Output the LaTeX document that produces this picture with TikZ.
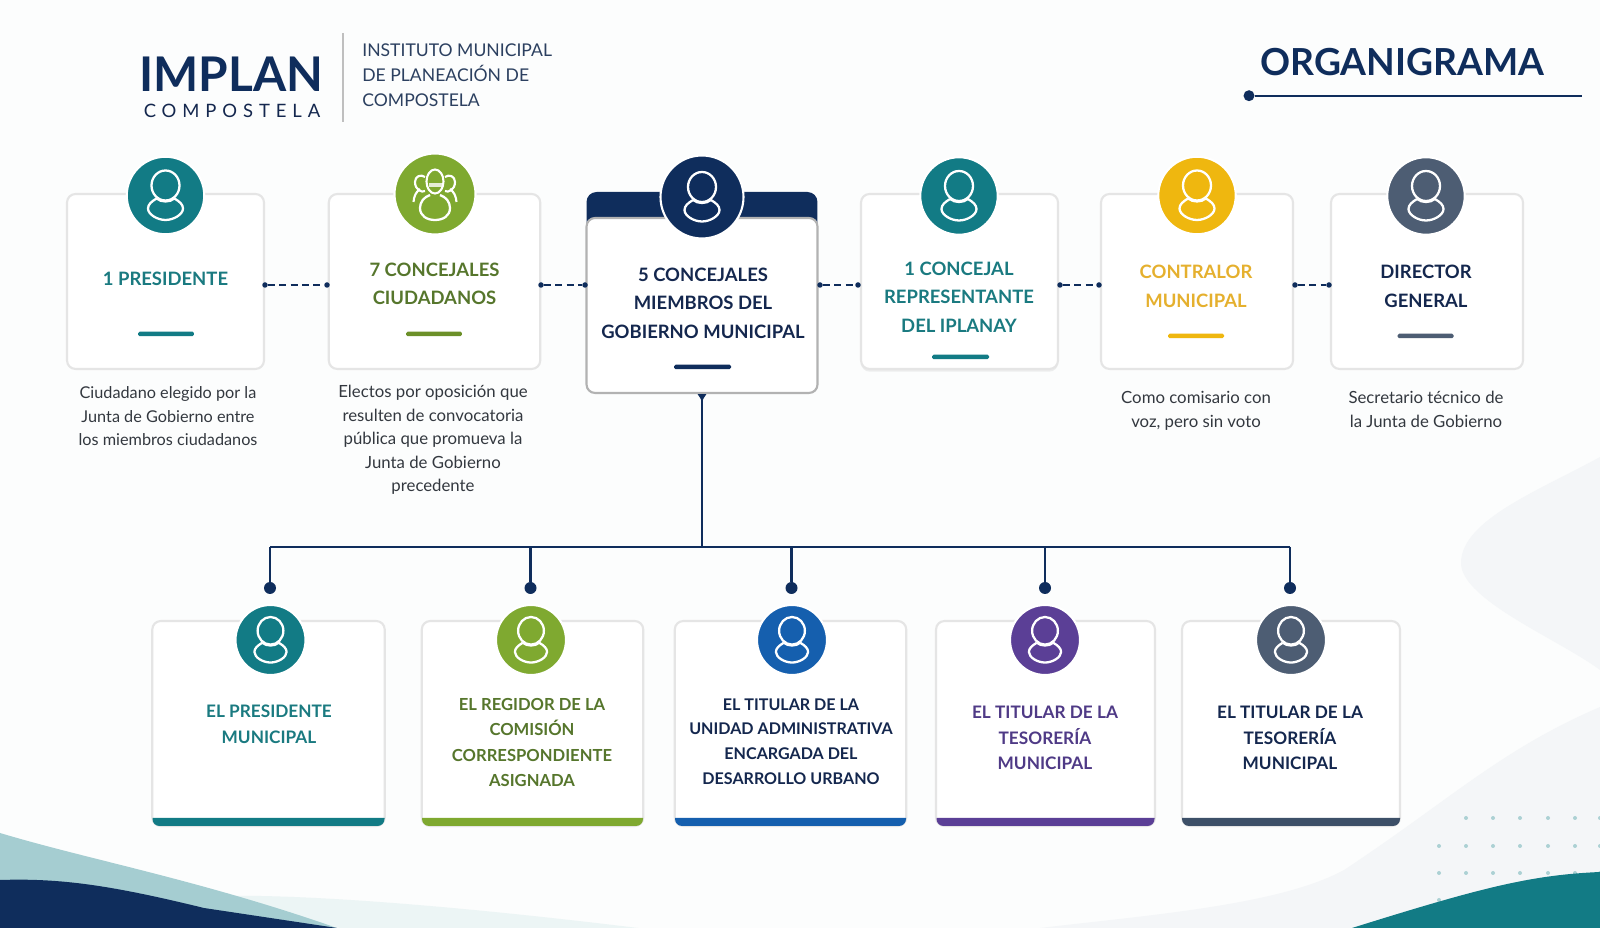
\documentclass[tikz,border=0pt]{standalone}
\usepackage{fontspec}
\setmainfont{Lato}
\usetikzlibrary{arrows.meta,shadows}

\definecolor{nv1}{HTML}{0F2D5C}
\definecolor{tl1}{HTML}{127B85}
\definecolor{tl2}{HTML}{1A7A80}
\definecolor{gr1}{HTML}{7FA930}
\definecolor{gr2}{HTML}{56762C}
\definecolor{ye1}{HTML}{EFB70F}
\definecolor{ye2}{HTML}{E5B02E}
\definecolor{sl1}{HTML}{4D5D73}
\definecolor{sl2}{HTML}{3D5068}
\definecolor{bl1}{HTML}{155FAE}
\definecolor{pu1}{HTML}{5B3F96}
\definecolor{pu2}{HTML}{4F3A86}
\definecolor{tx1}{HTML}{14274E}
\definecolor{tx2}{HTML}{33383F}
\definecolor{tx3}{HTML}{2C4060}
\definecolor{bg1}{HTML}{FCFDFD}
\definecolor{bg2}{HTML}{F4F6F8}

\tikzstyle{cr1}=[rectangle,fill=white,draw=black!10,line width=1.2pt,rounded corners=0.17cm,minimum height=3.5cm,inner sep=0pt]
\tikzstyle{cr2}=[rectangle,fill=white,draw=black!10,line width=1.2pt,rounded corners=0.17cm,minimum height=4.1cm,inner sep=0pt]
\tikzstyle{ci1}=[circle,draw=white,line width=1.2pt,inner sep=0pt,minimum size=1.55cm]
\tikzstyle{ci2}=[circle,draw=white,line width=1.2pt,inner sep=0pt,minimum size=1.4cm]
\tikzstyle{ti1}=[align=center,font=\bfseries\fontsize{10.5}{16.3}\selectfont,inner sep=0pt]
\tikzstyle{ti2}=[align=center,font=\bfseries\fontsize{9.8}{14.7}\selectfont,inner sep=0pt]
\tikzstyle{de1}=[align=center,text=tx2,font=\fontsize{9.55}{13.4}\selectfont,inner sep=0pt]
\tikzstyle{rl1}=[rectangle,rounded corners=0.03cm,inner sep=0pt,minimum height=0.09cm]
\tikzstyle{dt1}=[circle,fill=nv1,inner sep=0pt,minimum size=0.11cm]
\tikzstyle{dt2}=[circle,fill=nv1,inner sep=0pt,minimum size=0.24cm]

\tikzset{
  person/.pic={
    \draw [white,line width=1.3pt] (0,-10) ellipse (14 and 15);
    \draw [white,line width=1.3pt,line join=round] (-9,3) .. controls (-14,6) and (-17.5,9) .. (-17.5,13) .. controls (-17.5,19) and (-8,24.5) .. (0,24.5) .. controls (8,24.5) and (17.5,19) .. (17.5,13) .. controls (17.5,9) and (14,6) .. (9,3) .. controls (4,7) and (-4,7) .. (-9,3);
  },
  group/.pic={
    \draw [white,line width=1.2pt] (-21.5,8) .. controls (-21,2) and (-19,-2) .. (-15,-5);
    \draw [white,line width=1.2pt] (21.5,8) .. controls (21,2) and (19,-2) .. (15,-5);
    \draw [white,line width=1.2pt] (-10,-3) .. controls (-13,-1) and (-20,-4) .. (-20,-12) .. controls (-20,-18) and (-14,-20) .. (-10,-17);
    \draw [white,line width=1.2pt] (10,-3) .. controls (13,-1) and (20,-4) .. (20,-12) .. controls (20,-18) and (14,-20) .. (10,-17);
    \draw [white,line width=1.2pt] (0,-12.5) ellipse (8.5 and 12);
    \fill [white,opacity=.8] (-6.5,-11) rectangle (6.5,-7);
    \draw [white,line width=1.3pt] (-5,1) .. controls (-11,3) and (-15,8) .. (-15,14) .. controls (-15,22) and (-8,26) .. (0,26) .. controls (8,26) and (15,22) .. (15,14) .. controls (15,8) and (11,3) .. (5,1);
  }
}

\begin{document}
\begin{tikzpicture}[x=0.02cm,y=-0.02cm]

\useasboundingbox (0,0) rectangle (1600,928);

%Background and waves
\fill [bg1] (0,0) rectangle (1600,928);
\fill [bg2] (1600,457) .. controls (1540,490) and (1461,520) .. (1461,563) .. controls (1461,600) and (1560,640) .. (1600,670) -- cycle;
\fill [bg2] (1600,707) .. controls (1500,750) and (1450,800) .. (1344,870) .. controls (1280,905) and (1150,915) .. (1040,928) -- (1600,928) -- cycle;
\fill [tl1!8] (219,896) .. controls (300,894) and (450,905) .. (638,928) -- (340,928) -- cycle;
\fill [tl1!38] (0,833) .. controls (90,860) and (200,880) .. (337,928) -- (0,928) -- cycle;
\fill [nv1] (0,880) .. controls (60,878) and (110,885) .. (204,908) -- (337,928) -- (0,928) -- cycle;

%Dots on the right
\fill [tl1!35]
  (1466,818) circle (2) (1493,818) circle (2) (1520,818) circle (2) (1548,818) circle (2) (1575,818) circle (2) (1600,818) circle (2)
  (1439,846) circle (2) (1466,846) circle (2) (1493,846) circle (2) (1520,846) circle (2) (1548,846) circle (2) (1575,846) circle (2) (1600,846) circle (2)
  (1439,873) circle (2) (1466,873) circle (2) (1493,873) circle (2) (1520,873) circle (2) (1548,873) circle (2) (1575,873) circle (2) (1600,873) circle (2)
  (1439,900) circle (2);
\fill [tl1] (1600,872) .. controls (1530,875) and (1480,888) .. (1352,928) -- (1600,928) -- cycle;

%Header
\node [text=nv1,font=\bfseries\fontsize{27.2}{30}\selectfont,inner sep=0pt] at (231.5,74) (im) {IMPLAN};
\node [text=tx1,font=\fontsize{10.5}{12}\addfontfeatures{LetterSpace=32}\selectfont,inner sep=0pt] at (232,110.5) (cm) {COMPOSTELA};
\coordinate (l1) at (343,33);
\coordinate (l2) at (343,122);
\draw [black!25,line width=0.7pt] (l1) -- (l2);
\node [anchor=west,text=tx3,align=left,font=\fontsize{10}{14.2}\selectfont,inner sep=0pt] at (362,75) (in) {INSTITUTO MUNICIPAL\\DE PLANEACIÓN DE\\COMPOSTELA};

\node [text=nv1,font=\bfseries\fontsize{21.2}{24}\selectfont,inner sep=0pt] at (1402.5,62.5) (or) {ORGANIGRAMA};
\node [circle,fill=nv1,inner sep=0pt,minimum size=0.22cm] at (1249,95.7) (od) {};
\coordinate (oe) at (1582,95.7);
\draw [nv1,line width=1.1pt] (od) -- (oe);

%Top row of cards
\node [cr1,minimum width=3.94cm] at (165.5,281.5) (pr) {};
\node [cr1,minimum width=4.23cm] at (434.5,281.5) (co) {};
\node [rectangle,fill=nv1,rounded corners=0.2cm,minimum width=4.62cm,minimum height=0.8cm,inner sep=0pt] at (702,212) (he) {};
\node [cr1,draw=black!30,minimum width=4.62cm] at (702,305.5) (go) {};
\node [cr1,minimum width=3.94cm,drop shadow={opacity=.12,shadow xshift=0pt,shadow yshift=-1.5pt}] at (959.5,281.5) (re) {};
\node [cr1,minimum width=3.84cm] at (1197,281.5) (ct) {};
\node [cr1,minimum width=3.84cm] at (1427,281.5) (di) {};

\node [ci1,fill=tl1] at (165.5,195.5) (cpr) {};
\node [ci1,fill=gr1,minimum size=1.62cm] at (435,194) (cco) {};
\node [ci1,fill=nv1,minimum size=1.66cm] at (702,197) (cgo) {};
\node [ci1,fill=tl1] at (959,196) (cre) {};
\node [ci1,fill=ye1] at (1197,195.5) (cct) {};
\node [ci1,fill=sl1] at (1426,196) (cdi) {};

\pic at (cpr) {person};
\pic at (cco) {group};
\pic at (cgo) {person};
\pic at (cre) {person};
\pic at (cct) {person};
\pic at (cdi) {person};

\node [ti1,text=tl2] at (165.5,279) (tpr) {1 PRESIDENTE};
\node [ti1,text=gr2] at (434.5,284) (tco) {7 CONCEJALES\\CIUDADANOS};
\node [ti1,text=tx1] at (703,303) (tgo) {5 CONCEJALES\\MIEMBROS DEL\\GOBIERNO MUNICIPAL};
\node [ti1,text=tl2] at (959,297) (tre) {1 CONCEJAL\\REPRESENTANTE\\DEL IPLANAY};
\node [ti1,text=ye2] at (1196,286.5) (tct) {CONTRALOR\\MUNICIPAL};
\node [ti1,text=tx1] at (1426,286.5) (tdi) {DIRECTOR\\GENERAL};

\node [rl1,fill=tl1,minimum width=1.12cm] at (166,334) (rpr) {};
\node [rl1,fill=gr1!85!black,minimum width=1.12cm] at (434,334) (rco) {};
\node [rl1,fill=nv1,minimum width=1.14cm] at (702.5,367) (rgo) {};
\node [rl1,fill=tl1,minimum width=1.14cm] at (960.5,357) (rre) {};
\node [rl1,fill=ye1,minimum width=1.12cm] at (1196,336) (rct) {};
\node [rl1,fill=sl1,minimum width=1.12cm] at (1425.5,336) (rdi) {};

%Text under the cards
\node [de1,font=\fontsize{9.25}{13.4}\selectfont] at (168,416.5) (dpr) {Ciudadano elegido por la\\Junta de Gobierno entre\\los miembros ciudadanos};
\node [de1] at (433,440) (dco) {Electos por oposición que\\resulten de convocatoria\\pública que promueva la\\Junta de Gobierno\\precedente};
\node [de1] at (1196,411) (dct) {Como comisario con\\voz, pero sin voto};
\node [de1] at (1426,409.5) (ddi) {Secretario técnico de\\la Junta de Gobierno};

%Dashed links
\node [dt1] at (265,285) (a1) {};
\node [dt1] at (327,285) (a2) {};
\node [dt1] at (541,285) (a3) {};
\node [dt1] at (585,285) (a4) {};
\node [dt1] at (820,285) (a5) {};
\node [dt1] at (858,285) (a6) {};
\node [dt1] at (1060,285) (a7) {};
\node [dt1] at (1099,285) (a8) {};
\node [dt1] at (1295,285) (a9) {};
\node [dt1] at (1329,285) (a10) {};

\draw [nv1,line width=0.9pt,dash pattern=on 4pt off 2.4pt] (a1) -- (a2);
\draw [nv1,line width=0.9pt,dash pattern=on 4pt off 2.4pt] (a3) -- (a4);
\draw [nv1,line width=0.9pt,dash pattern=on 4pt off 2.4pt] (a5) -- (a6);
\draw [nv1,line width=0.9pt,dash pattern=on 4pt off 2.4pt] (a7) -- (a8);
\draw [nv1,line width=0.9pt,dash pattern=on 4pt off 2.4pt] (a9) -- (a10);

%Tree below the middle card
\coordinate (bu) at (go.south |- 0,547);
\coordinate (b1) at (270,547);
\coordinate (b2) at (530.5,547);
\coordinate (b3) at (791.5,547);
\coordinate (b4) at (1045,547);
\coordinate (b5) at (1290,547);

\node [dt2] at (270,588) (e1) {};
\node [dt2] at (530.5,588) (e2) {};
\node [dt2] at (791.5,588) (e3) {};
\node [dt2] at (1045,588) (e4) {};
\node [dt2] at (1290,588) (e5) {};

\draw [nv1,line width=1.2pt,{Latex[reversed,length=4.5pt,width=5.5pt]}-] (go.south) -- (bu);
\draw [nv1,line width=1.2pt] (b1) -- (b5);
\draw [nv1,line width=1.2pt] (b1) -- (e1);
\draw [nv1,line width=1.2pt] (b2) -- (e2);
\draw [nv1,line width=1.2pt] (b3) -- (e3);
\draw [nv1,line width=1.2pt] (b4) -- (e4);
\draw [nv1,line width=1.2pt] (b5) -- (e5);

%Bottom row of cards
\node [cr2,minimum width=4.65cm] at (268.5,723.5) (pm) {};
\node [cr2,minimum width=4.43cm] at (532.5,723.5) (rg) {};
\node [cr2,minimum width=4.63cm] at (790.5,723.5) (ud) {};
\node [cr2,minimum width=4.38cm] at (1045.5,723.5) (t1) {};
\node [cr2,minimum width=4.36cm] at (1291,723.5) (t2) {};

\fill [tl1] (152.5,818) -- (384.5,818) [rounded corners=0.14cm] -- (384.5,826) -- (152.5,826) [sharp corners] -- cycle;
\fill [gr1] (422,818) -- (643,818) [rounded corners=0.14cm] -- (643,826) -- (422,826) [sharp corners] -- cycle;
\fill [bl1] (675,818) -- (906,818) [rounded corners=0.14cm] -- (906,826) -- (675,826) [sharp corners] -- cycle;
\fill [pu1] (936.5,818) -- (1154.5,818) [rounded corners=0.14cm] -- (1154.5,826) -- (936.5,826) [sharp corners] -- cycle;
\fill [sl2] (1182,818) -- (1400,818) [rounded corners=0.14cm] -- (1400,826) -- (1182,826) [sharp corners] -- cycle;

\node [ci2,fill=tl1] at (270.5,640) (cpm) {};
\node [ci2,fill=gr1] at (531,640) (crg) {};
\node [ci2,fill=bl1] at (792,640) (cud) {};
\node [ci2,fill=pu1] at (1045,640) (ct1) {};
\node [ci2,fill=sl1] at (1291,640) (ct2) {};

\pic [scale=0.92] at (cpm) {person};
\pic [scale=0.92] at (crg) {person};
\pic [scale=0.92] at (cud) {person};
\pic [scale=0.92] at (ct1) {person};
\pic [scale=0.92] at (ct2) {person};

\node [ti2,text=tl2] at (269,724.5) (tpm) {EL PRESIDENTE\\MUNICIPAL};
\node [ti2,text=gr2,font=\bfseries\fontsize{9.45}{14.6}\selectfont] at (532,742.5) (trg) {EL REGIDOR DE LA\\COMISIÓN\\CORRESPONDIENTE\\ASIGNADA};
\node [ti2,text=tx1,font=\bfseries\fontsize{9.15}{14}\selectfont] at (791,741.5) (tud) {EL TITULAR DE LA\\UNIDAD ADMINISTRATIVA\\ENCARGADA DEL\\DESARROLLO URBANO};
\node [ti2,text=pu2] at (1045,738) (tt1) {EL TITULAR DE LA\\TESORERÍA\\MUNICIPAL};
\node [ti2,text=tx1] at (1290,738) (tt2) {EL TITULAR DE LA\\TESORERÍA\\MUNICIPAL};

\end{tikzpicture}
\end{document}
